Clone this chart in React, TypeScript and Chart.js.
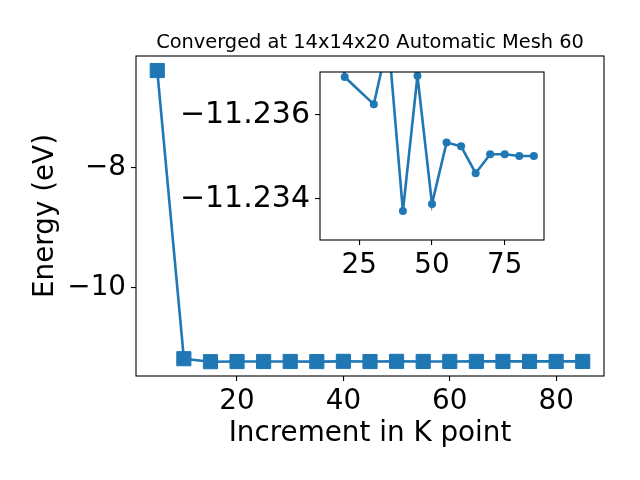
import React, { useEffect, useRef } from 'react';
import { Chart, registerables } from 'chart.js';
Chart.register(...registerables);

// Main series: energy (eV) vs k-point increment
const kPoints = [5, 10, 15, 20, 25, 30, 35, 40, 45, 50, 55, 60, 65, 70, 75, 80, 85];
const energies = [-6.37, -11.19, -11.24, -11.2369, -11.2366, -11.23625, -11.2378, -11.23371, -11.23693, -11.23388, -11.23534, -11.23525, -11.23461, -11.23506, -11.23506, -11.23502, -11.23502];

// Inset series (zoomed view)
const insetK = [15, 20, 30, 35, 40, 45, 50, 55, 60, 65, 70, 75, 80, 85];
const insetE = [-11.24, -11.2369, -11.23625, -11.2378, -11.23371, -11.23693, -11.23388, -11.23534, -11.23525, -11.23461, -11.23506, -11.23506, -11.23502, -11.23502];

const mainXTicks = [20, 40, 60, 80];
const mainYTicks = [-10, -8];
const insetXTicks = [25, 50, 75];
const insetYTicks = [-11.236, -11.234];

const TITLE = 'Converged at 14x14x20 Automatic Mesh 60';
const X_LABEL = 'Increment in K point';
const Y_LABEL = 'Energy (eV)';

const BLUE = '#1f77b4';
const FONT = 'DejaVu Sans';
const BIG = 27.8;
const INSET_Y_FONT = 30;

const minus = (s: string) => s.replace('-', '\u2212');

const framePlugin = (title?: string) => ({
  id: 'frame',
  beforeDatasetsDraw(chart: any) {
    const { ctx, chartArea: a } = chart;
    ctx.save();
    ctx.fillStyle = '#fff';
    ctx.fillRect(a.left, a.top, a.right - a.left, a.bottom - a.top);
    ctx.restore();
  },
  afterDraw(chart: any) {
    const { ctx, chartArea: a } = chart;
    ctx.save();
    ctx.strokeStyle = '#000';
    ctx.lineWidth = 1.1;
    ctx.strokeRect(a.left, a.top, a.right - a.left, a.bottom - a.top);
    if (title) {
      ctx.fillStyle = '#000';
      ctx.font = `19.4px "${FONT}"`;
      ctx.textAlign = 'center';
      ctx.textBaseline = 'alphabetic';
      ctx.fillText(title, (a.left + a.right) / 2, a.top - 8.3);
    }
    ctx.restore();
  },
});

const gridOpts = {
  drawOnChartArea: false,
  drawTicks: true,
  tickLength: 5,
  color: '#000',
  lineWidth: 1.1,
};

export default function App() {
  const mainRef = useRef<HTMLCanvasElement>(null);
  const insetRef = useRef<HTMLCanvasElement>(null);

  useEffect(() => {
    Chart.defaults.font.family = FONT;
    Chart.defaults.color = '#000';

    const main = new Chart(mainRef.current!, {
      type: 'line',
      data: {
        datasets: [
          {
            data: kPoints.map((k, i) => ({ x: k, y: energies[i] })),
            borderColor: BLUE,
            backgroundColor: BLUE,
            borderWidth: 2.6,
            pointStyle: 'rect',
            pointRadius: 10,
            pointBorderWidth: 1,
            pointBorderColor: BLUE,
            pointBackgroundColor: BLUE,
            tension: 0,
          },
        ],
      },
      options: {
        responsive: false,
        animation: false,
        devicePixelRatio: 1,
        layout: { padding: { left: 0, top: 56, right: 36, bottom: 0 } },
        plugins: { legend: { display: false }, tooltip: { enabled: false }, title: { display: false } },
        scales: {
          x: {
            type: 'linear',
            min: 1,
            max: 89,
            border: { display: false },
            grid: gridOpts,
            ticks: { font: { size: BIG }, padding: 4, maxRotation: 0 },
            afterBuildTicks: (s: any) => { s.ticks = mainXTicks.map((v) => ({ value: v })); },
            afterFit: (s: any) => { s.height = 104; },
            title: { display: true, text: X_LABEL, font: { size: BIG }, padding: { top: 0, bottom: 29.3 } },
          },
          y: {
            type: 'linear',
            min: -11.479,
            max: -6.127,
            border: { display: false },
            grid: gridOpts,
            ticks: { font: { size: BIG }, padding: 5, callback: (v: any) => minus(String(v)) },
            afterBuildTicks: (s: any) => { s.ticks = mainYTicks.map((v) => ({ value: v })); },
            afterFit: (s: any) => { s.width = 136; },
            title: { display: true, text: Y_LABEL, font: { size: BIG }, padding: { top: 29.5, bottom: 0 } },
          },
        },
      },
      plugins: [framePlugin(TITLE)],
    } as any);

    const inset = new Chart(insetRef.current!, {
      type: 'line',
      data: {
        datasets: [
          {
            data: insetK.map((k, i) => ({ x: k, y: insetE[i] })),
            borderColor: BLUE,
            backgroundColor: BLUE,
            borderWidth: 2.6,
            pointStyle: 'circle',
            pointRadius: 4,
            pointBorderWidth: 0,
            pointBackgroundColor: BLUE,
            tension: 0,
          },
        ],
      },
      options: {
        responsive: false,
        animation: false,
        devicePixelRatio: 1,
        layout: { padding: { left: 0, top: 72, right: 96, bottom: 0 } },
        plugins: { legend: { display: false }, tooltip: { enabled: false }, title: { display: false } },
        scales: {
          x: {
            type: 'linear',
            min: 11.5,
            max: 88.5,
            border: { display: false },
            grid: gridOpts,
            ticks: { font: { size: BIG }, padding: 4, maxRotation: 0 },
            afterBuildTicks: (s: any) => { s.ticks = insetXTicks.map((v) => ({ value: v })); },
            afterFit: (s: any) => { s.height = 240; },
          },
          y: {
            type: 'linear',
            reverse: true,
            min: -11.23702,
            max: -11.23302,
            border: { display: false },
            grid: gridOpts,
            ticks: { font: { size: INSET_Y_FONT }, padding: 5, callback: (v: any) => minus(Number(v).toFixed(3)) },
            afterBuildTicks: (s: any) => { s.ticks = insetYTicks.map((v) => ({ value: v })); },
            afterFit: (s: any) => { s.width = 320; },
          },
        },
      },
      plugins: [framePlugin()],
    } as any);

    return () => {
      main.destroy();
      inset.destroy();
    };
  }, []);

  const canvasStyle: React.CSSProperties = { position: 'absolute', left: 0, top: 0, width: 640, height: 480 };
  return (
    <div style={{ position: 'fixed', left: 0, top: 0, width: 640, height: 480, background: '#fff' }}>
      <canvas ref={mainRef} width={640} height={480} style={canvasStyle} />
      <canvas ref={insetRef} width={640} height={480} style={canvasStyle} />
    </div>
  );
}
